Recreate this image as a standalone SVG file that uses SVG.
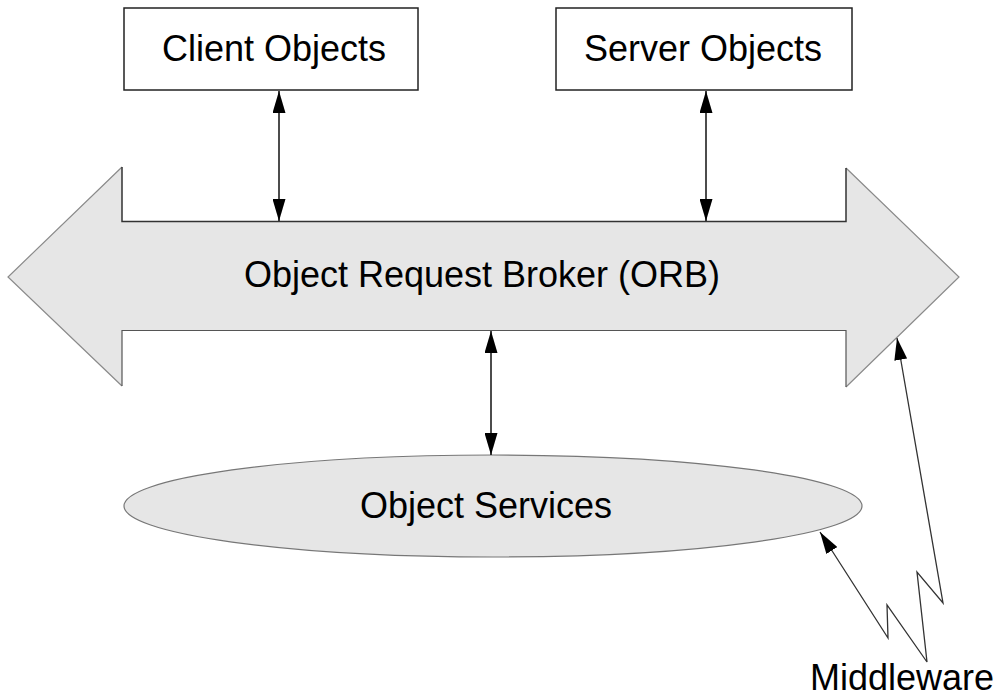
<svg xmlns="http://www.w3.org/2000/svg" width="998" height="697" viewBox="0 0 998 697">
  <style>
    .lbl { font-family: "Liberation Sans", Arial, sans-serif; font-size: 36px; fill: #000; text-anchor: middle; }
    .box { fill: #fff; stroke: #222; stroke-width: 1.5; }
    .conn { fill: none; stroke: #111; stroke-width: 1.5; }
    .zig { fill: none; stroke: #333; stroke-width: 1.3; }
  </style>
  <defs>
    <marker id="headL" viewBox="0 0 22 13" refX="22" refY="6.5" markerWidth="22" markerHeight="13" markerUnits="userSpaceOnUse" orient="auto-start-reverse">
      <path d="M0,0 L22,6.5 L0,13 Z" fill="#000"/>
    </marker>
  </defs>

  <!-- ORB: double-headed block arrow -->
  <g id="orb">
    <path d="M8,277 L122,167 L122,221.5 L846,221.5 L846,168 L959,277 L846,387 L846,330.5 L122,330.5 L122,386 Z" fill="#e6e6e6" stroke="none"/>
    <path d="M122,167 L8,277 L122,386 M846,168 L959,277 L846,387" fill="none" stroke="#8a8a8a" stroke-width="1.2"/>
    <path d="M122,167 L122,221.5 L846,221.5 L846,168" fill="none" stroke="#333" stroke-width="1.5"/>
    <path d="M122,386 L122,330.5 L846,330.5 L846,387" fill="none" stroke="#555" stroke-width="1.2"/>
    <text class="lbl" x="482" y="287">Object Request Broker (ORB)</text>
  </g>

  <g id="client">
    <rect class="box" x="124" y="8" width="294" height="82"/>
    <text class="lbl" x="274" y="61">Client Objects</text>
  </g>

  <g id="server">
    <rect class="box" x="556" y="8" width="296" height="82"/>
    <text class="lbl" x="703" y="61">Server Objects</text>
  </g>

  <g id="services">
    <ellipse cx="493" cy="506" rx="369" ry="51" fill="#e6e6e6" stroke="#777" stroke-width="1.2"/>
    <text class="lbl" x="486" y="518">Object Services</text>
  </g>

  <g id="middleware">
    <text class="lbl" x="902" y="690">Middleware</text>
  </g>

  <g id="connectors">
    <line class="conn" x1="279" y1="91" x2="279" y2="221" marker-start="url(#headL)" marker-end="url(#headL)"/>
    <line class="conn" x1="706" y1="91" x2="706" y2="221" marker-start="url(#headL)" marker-end="url(#headL)"/>
    <line class="conn" x1="491" y1="331" x2="491" y2="455" marker-start="url(#headL)" marker-end="url(#headL)"/>
    <path class="zig" d="M820,532 L888,638 L887,605 L927,662 L917,572 L943,603 L897,338" marker-start="url(#headL)" marker-end="url(#headL)"/>
  </g>
</svg>
